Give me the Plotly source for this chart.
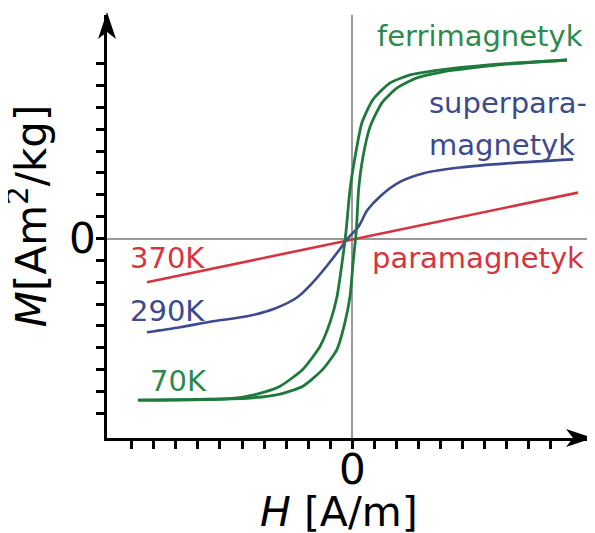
import plotly.graph_objects as go

# ---- data ----
H_para = [-9.32, 10.27]
M_para = [-2.0, 2.1]

H_super = [-9.32, -7.82, -6.32, -4.77, -3.5, -2.5, -1.77, -1.1, -0.6, -0.2, 0.3, 0.7, 1.3, 2.2, 3.3, 4.9, 7.2, 10.05]
M_super = [-4.29, -4.06, -3.79, -3.56, -3.2, -2.7, -2.0, -1.2, -0.55, 0.0, 0.55, 1.3, 1.95, 2.6, 3.0, 3.25, 3.45, 3.62]

H_ferri_desc = [-9.73, -5.55, -4.32, -3.27, -2.23, -1.45, -1.0, -0.68, -0.45, -0.28, -0.09, 0.14, 0.45, 0.95, 1.73, 2.64, 3.68, 4.77, 7.0, 9.77]
M_ferri_desc = [-7.40, -7.33, -7.12, -6.76, -5.98, -4.93, -3.84, -2.65, -1.10, 0.25, 2.24, 3.74, 5.30, 6.35, 7.12, 7.49, 7.67, 7.81, 8.0, 8.17]

H_ferri_asc = [-9.73, -4.64, -3.27, -2.23, -1.32, -0.68, -0.32, -0.09, 0.05, 0.2, 0.3, 0.5, 0.82, 1.36, 2.05, 2.95, 4.14, 4.77, 7.0, 9.77]
M_ferri_asc = [-7.40, -7.30, -7.12, -6.76, -5.98, -5.07, -3.84, -2.65, -1.10, 0.41, 2.24, 3.74, 5.11, 6.21, 6.89, 7.35, 7.63, 7.72, 7.98, 8.17]

x_ticks = list(range(-10, 10))
y_ticks = list(range(-8, 9))
zero_label = "0"

RED = "#d6343e"
BLUE = "#3c4a8e"
GREEN = "#1d7a3c"
GREEN_TXT = "#2e8a4c"
FONT = "DejaVu Sans"

fig = go.Figure()
line_kw = dict(mode="lines", line_shape="spline", hoverinfo="skip", showlegend=False)
fig.add_trace(go.Scatter(x=H_para, y=M_para, line=dict(color=RED, width=2.6), **line_kw))
fig.add_trace(go.Scatter(x=H_super, y=M_super, line=dict(color=BLUE, width=2.6, smoothing=0.8), **line_kw))
fig.add_trace(go.Scatter(x=H_ferri_desc, y=M_ferri_desc, line=dict(color=GREEN, width=2.8, smoothing=0.6), **line_kw))
fig.add_trace(go.Scatter(x=H_ferri_asc, y=M_ferri_asc, line=dict(color=GREEN, width=2.8, smoothing=0.6), **line_kw))

labels = [
    ("ferrimagnetyk", 1.05, 9.27, GREEN_TXT),
    ("superpara-", 3.41, 6.21, BLUE),
    ("magnetyk", 3.41, 4.29, BLUE),
    ("paramagnetyk", 0.82, -0.87, RED),
    ("370K", -10.18, -0.91, RED),
    ("290K", -10.18, -3.33, BLUE),
    ("70K", -9.27, -6.53, GREEN_TXT),
]
for txt, x, y, c in labels:
    fig.add_annotation(x=x, y=y, xref="x", yref="y", text=txt, showarrow=False,
                       xanchor="left", yanchor="middle",
                       font=dict(family=FONT, size=29, color=c))

# zero tick labels
fig.add_annotation(x=0, y=-0.075, xref="x", yref="paper", text=zero_label, showarrow=False,
                   xanchor="center", yanchor="middle",
                   font=dict(family=FONT, size=42, color="black"))
fig.add_annotation(x=-0.05, y=0, xref="paper", yref="y", text=zero_label, showarrow=False,
                   xanchor="center", yanchor="middle",
                   font=dict(family=FONT, size=42, color="black"))

# axis titles
fig.add_annotation(x=0.48, y=-0.175, xref="paper", yref="paper", text="<i>H</i> [A/m]",
                   showarrow=False, xanchor="center", yanchor="middle",
                   font=dict(family=FONT, size=41, color="black"))
fig.add_annotation(x=-0.161, y=0.525, xref="paper", yref="paper", text="<i>M</i>[Am<sup>2</sup>/kg]",
                   showarrow=False, textangle=-90, xanchor="center", yanchor="middle",
                   font=dict(family=FONT, size=42, color="black"))

# arrow heads
fig.add_shape(type="path", xref="paper", yref="paper", xsizemode="pixel", ysizemode="pixel",
              xanchor=1.0, yanchor=0.0, path="M3,0 L-24,9 L-17,0 L-24,-9 Z",
              fillcolor="black", line=dict(width=0))
fig.add_shape(type="path", xref="paper", yref="paper", xsizemode="pixel", ysizemode="pixel",
              xanchor=0.0, yanchor=1.0, path="M0,3 L-9,-24 L0,-17 L9,-24 Z",
              fillcolor="black", line=dict(width=0))

axis_common = dict(showgrid=False, showline=True, linecolor="black", linewidth=3,
                   ticks="outside", ticklen=8, tickwidth=3, tickcolor="black",
                   showticklabels=False,
                   zeroline=True, zerolinecolor="#9a9a9a", zerolinewidth=1.5)
fig.update_xaxes(range=[-11.136, 10.818], tickvals=x_ticks, **axis_common)
fig.update_yaxes(range=[-9.13, 10.23], tickvals=y_ticks, **axis_common)

# page body has an 8px default margin: size the figure so it lands in place
fig.update_layout(width=587, height=525, margin=dict(l=99, r=5, t=7, b=95),
                  plot_bgcolor="white", paper_bgcolor="white")

fig.write_html("out.html")
